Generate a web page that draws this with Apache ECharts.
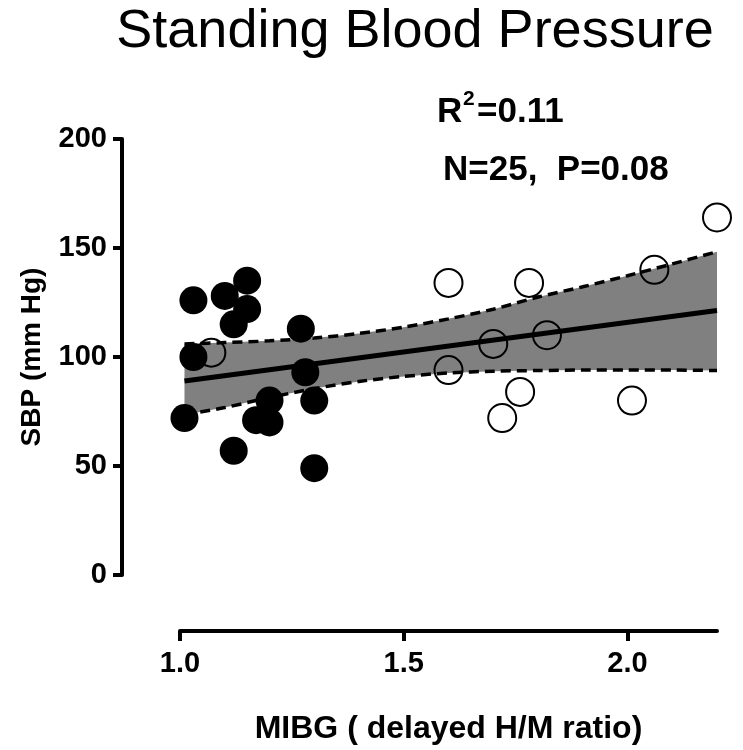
<!DOCTYPE html>
<html>
<head>
<meta charset="utf-8">
<script src="https://cdn.jsdelivr.net/npm/echarts@6/dist/echarts.min.js"></script>
<style>
html,body{margin:0;padding:0;background:#fff;}
#chart{width:743px;height:750px;}
</style>
</head>
<body>
<div id="chart"></div>
<script>
// ---- data ----
const xTicks = [1.0, 1.5, 2.0];
const yTicks = [0, 50, 100, 150, 200];

const filledX = [1.01, 1.03, 1.03, 1.10, 1.12, 1.12, 1.15, 1.15, 1.17, 1.20, 1.20, 1.27, 1.28, 1.30, 1.30];
const filledY = [72, 126, 100, 128, 115, 57, 135, 122, 71, 80, 70, 113, 93, 80, 49];

const openX = [1.07, 1.60, 1.60, 1.70, 1.72, 1.76, 1.78, 1.82, 2.01, 2.06, 2.20];
const openY = [102, 134, 94, 106, 72, 84, 134, 110, 80, 140, 164];

const fitX = [1.01, 2.20];
const fitY = [89.0, 121.3];

const bandX     = [1.01, 1.10, 1.20, 1.30, 1.40, 1.50, 1.60, 1.70, 1.80, 1.90, 2.00, 2.10, 2.20];
const bandUpper = [106.0, 106.6, 107.4, 108.7, 110.8, 113.7, 117.5, 121.9, 127.5, 132.2, 137.3, 142.7, 148.3];
const bandLower = [73.5, 76.8, 81.4, 85.5, 88.8, 91.1, 92.7, 93.5, 93.8, 94.0, 94.0, 94.0, 93.8];

const FONT = 'Liberation Sans, Arial, Helvetica, sans-serif';

const chart = echarts.init(document.getElementById('chart'), null, {renderer: 'canvas'});

const zip = (a, b) => a.map((v, i) => [v, b[i]]);

function txt(str, x, y, font, align) {
  return {type: 'text', x: x, y: y,
          style: {text: str, font: font, fill: '#000', align: align || 'left', verticalAlign: 'top'}};
}

const option = {
  animation: false,
  backgroundColor: '#ffffff',
  grid: {left: 180, right: 26, top: 139, bottom: 173, containLabel: false},
  xAxis: {
    type: 'value', min: 1.0, max: 2.2, interval: 0.5,
    offset: 56,
    splitLine: {show: false},
    axisLine: {show: true, onZero: false, lineStyle: {color: '#000', width: 4}},
    axisTick: {show: true, length: 10, customValues: xTicks, lineStyle: {color: '#000', width: 4}},
    axisLabel: {customValues: xTicks, formatter: v => Number(v).toFixed(1), color: '#000', fontSize: 29, fontWeight: 'bold', fontFamily: FONT, margin: 18},
    name: 'MIBG ( delayed H/M ratio)', nameLocation: 'middle', nameGap: 82,
    nameTextStyle: {color: '#000', fontSize: 32, fontWeight: 'bold', fontFamily: FONT}
  },
  yAxis: {
    type: 'value', min: 0, max: 200, interval: 50,
    offset: 58,
    splitLine: {show: false},
    axisLine: {show: true, onZero: false, lineStyle: {color: '#000', width: 4}},
    axisTick: {show: true, length: 9, lineStyle: {color: '#000', width: 4}},
    axisLabel: {color: '#000', fontSize: 29, fontWeight: 'bold', fontFamily: FONT, margin: 15},
    name: 'SBP (mm Hg)', nameLocation: 'middle', nameGap: 76,
    nameTextStyle: {color: '#000', fontSize: 28, fontWeight: 'bold', fontFamily: FONT}
  },
  graphic: [
    txt('Standing Blood Pressure', 415, 5, '54px ' + FONT, 'center'),
    txt('R', 437, 95, 'bold 35px ' + FONT),
    txt('2', 463, 89, 'bold 21px ' + FONT),
    txt('=0.11', 477, 95, 'bold 35px ' + FONT),
    txt('N=25,  P=0.08', 443, 153, 'bold 35px ' + FONT)
  ],
  series: [
    {
      type: 'custom', z: 1, clip: false,
      data: [[1.5, 100]],
      renderItem: function (params, api) {
        const pts = [];
        for (let i = 0; i < bandX.length; i++) pts.push(api.coord([bandX[i], bandUpper[i]]));
        for (let i = bandX.length - 1; i >= 0; i--) pts.push(api.coord([bandX[i], bandLower[i]]));
        return {type: 'polygon', shape: {points: pts}, style: {fill: '#808080', stroke: null}};
      }
    },
    {type: 'line', z: 2, data: zip(bandX, bandUpper), symbol: 'none', smooth: 0.3, clip: false,
     lineStyle: {color: '#000', width: 3.5, type: [10, 6]}},
    {type: 'line', z: 2, data: zip(bandX, bandLower), symbol: 'none', smooth: 0.3, clip: false,
     lineStyle: {color: '#000', width: 3.5, type: [10, 6]}},
    {type: 'line', z: 3, data: zip(fitX, fitY), symbol: 'none', clip: false,
     lineStyle: {color: '#000', width: 5}},
    {type: 'scatter', z: 4, data: zip(openX, openY), symbol: 'circle', symbolSize: 28, clip: false,
     itemStyle: {color: 'rgba(0,0,0,0)', borderColor: '#000', borderWidth: 2, opacity: 1}},
    {type: 'scatter', z: 5, data: zip(filledX, filledY), symbol: 'circle', symbolSize: 28, clip: false,
     itemStyle: {color: '#000', opacity: 1}}
  ]
};
chart.setOption(option);
</script>
</body>
</html>
